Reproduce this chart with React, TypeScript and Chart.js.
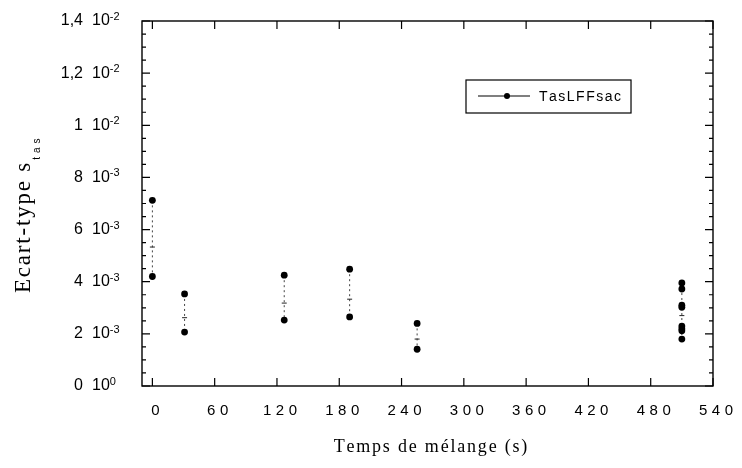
import React, { useEffect, useRef } from 'react';
import { Chart, registerables } from 'chart.js';

Chart.register(...registerables);

// ---- data ----
const mixTimes = [0, 31, 127, 190, 255, 510];
const sdAt0 = [7.12e-3, 4.2e-3];
const sdAt31 = [3.53e-3, 2.07e-3];
const sdAt127 = [4.25e-3, 2.53e-3];
const sdAt190 = [4.48e-3, 2.65e-3];
const sdAt255 = [2.4e-3, 1.41e-3];
const sdAt510 = [3.95e-3, 3.72e-3, 3.1e-3, 3.02e-3, 2.3e-3, 2.2e-3, 2.12e-3, 1.8e-3];
const sdGroups = [sdAt0, sdAt31, sdAt127, sdAt190, sdAt255, sdAt510];
const midMarks = [5.33e-3, 2.62e-3, 3.18e-3, 3.33e-3, 1.8e-3, 2.7e-3];

const xTicks = [0, 60, 120, 180, 240, 300, 360, 420, 480, 540];
const yTicks = [0, 0.002, 0.004, 0.006, 0.008, 0.01, 0.012, 0.014];
const yTickMantissa = ['0', '2', '4', '6', '8', '1', '1,2', '1,4'];
const yTickExponent = ['0', '-3', '-3', '-3', '-3', '-2', '-2', '-2'];
const yMinorStep = 0.0005;
const seriesLabel = 'TasLFFsac';
const xTitle = 'Temps de mélange (s)';
const yTitle = 'Ecart-type s';
const yTitleSub = 'tas';

const SANS = '"Liberation Sans", Arial, sans-serif';
const SERIF = '"Liberation Serif", "Times New Roman", serif';

function measureSpaced(ctx: CanvasRenderingContext2D, text: string, gap: number) {
  let w = 0;
  for (let i = 0; i < text.length; i++) {
    w += ctx.measureText(text[i]).width;
    if (i < text.length - 1) w += gap;
  }
  return w;
}
function drawSpaced(ctx: CanvasRenderingContext2D, text: string, x: number, y: number, gap: number) {
  let cx = x;
  for (let i = 0; i < text.length; i++) {
    ctx.fillText(text[i], cx, y);
    cx += ctx.measureText(text[i]).width + gap;
  }
}

const decorPlugin = {
  id: 'decor',
  afterDraw(chart: any) {
    const ctx: CanvasRenderingContext2D = chart.ctx;
    const { left, right, top, bottom } = chart.chartArea;
    const xs = chart.scales.x;
    const ys = chart.scales.y;
    ctx.save();
    ctx.strokeStyle = '#000';
    ctx.fillStyle = '#000';
    ctx.lineWidth = 1.4;
    ctx.strokeRect(left, top, right - left, bottom - top);

    // y ticks (inward, both sides)
    ctx.lineWidth = 1.2;
    const nMinor = Math.round(yTicks[yTicks.length - 1] / yMinorStep);
    for (let i = 0; i <= nMinor; i++) {
      const py = ys.getPixelForValue(i * yMinorStep);
      const len = i % 4 === 0 ? 8 : 4;
      ctx.beginPath();
      ctx.moveTo(left, py);
      ctx.lineTo(left + len, py);
      ctx.moveTo(right, py);
      ctx.lineTo(right - len, py);
      ctx.stroke();
    }
    // x ticks (inward, top & bottom)
    xTicks.forEach((v) => {
      const px = xs.getPixelForValue(v);
      ctx.beginPath();
      ctx.moveTo(px, bottom);
      ctx.lineTo(px, bottom - 8);
      ctx.moveTo(px, top);
      ctx.lineTo(px, top + 8);
      ctx.stroke();
    });

    // y tick labels
    yTicks.forEach((v, i) => {
      const py = ys.getPixelForValue(v);
      ctx.font = `16px ${SANS}`;
      ctx.textBaseline = 'middle';
      ctx.textAlign = 'right';
      ctx.fillText(yTickMantissa[i], left - 59, py);
      ctx.textAlign = 'left';
      ctx.fillText('10', left - 50, py);
      const w10 = ctx.measureText('10').width;
      ctx.font = `11px ${SANS}`;
      ctx.textBaseline = 'alphabetic';
      ctx.fillText(yTickExponent[i], left - 50 + w10, py - 1);
    });

    // x tick labels
    ctx.font = `15px ${SANS}`;
    ctx.textAlign = 'left';
    ctx.textBaseline = 'middle';
    xTicks.forEach((v) => {
      const px = xs.getPixelForValue(v);
      const t = String(v);
      const w = measureSpaced(ctx, t, 4.5);
      drawSpaced(ctx, t, px + 3 - w / 2, bottom + 25, 4.5);
    });

    // x title
    ctx.font = `18px ${SERIF}`;
    ctx.textBaseline = 'alphabetic';
    const wx = measureSpaced(ctx, xTitle, 1.8);
    drawSpaced(ctx, xTitle, (left + right) / 2 + 3 - wx / 2, 452, 1.8);

    // y title (rotated)
    ctx.save();
    ctx.translate(30, 293);
    ctx.rotate(-Math.PI / 2);
    ctx.font = `23px ${SERIF}`;
    const wy = measureSpaced(ctx, yTitle, 1.8);
    drawSpaced(ctx, yTitle, 0, 0, 1.8);
    ctx.font = `10px ${SANS}`;
    drawSpaced(ctx, yTitleSub, wy + 3, 10, 4);
    ctx.restore();

    // legend box
    ctx.font = `14px ${SANS}`;
    ctx.textBaseline = 'middle';
    const lx = 466, ly = 80, lh = 33;
    const tw = measureSpaced(ctx, seriesLabel, 1.5);
    const lw = 539 - lx + tw + 10;
    ctx.lineWidth = 1.2;
    ctx.strokeRect(lx, ly, lw, lh);
    ctx.beginPath();
    ctx.moveTo(478, ly + 16);
    ctx.lineTo(530, ly + 16);
    ctx.stroke();
    ctx.beginPath();
    ctx.arc(507, ly + 16, 3, 0, Math.PI * 2);
    ctx.fill();
    drawSpaced(ctx, seriesLabel, 539, ly + 17, 1.5);
    ctx.restore();
  },
};

export default function App() {
  const canvasRef = useRef<HTMLCanvasElement>(null);
  useEffect(() => {
    if (!canvasRef.current) return;
    const lineSets = sdGroups.map((g, i) => ({
      label: seriesLabel + i,
      data: g.map((v) => ({ x: mixTimes[i], y: v })),
      showLine: true,
      borderColor: '#444',
      borderWidth: 1,
      borderDash: [2, 3],
      pointRadius: 0,
      order: 3,
    }));
    const points = {
      label: seriesLabel,
      data: sdGroups.flatMap((g, i) => g.map((v) => ({ x: mixTimes[i], y: v }))),
      showLine: false,
      pointRadius: 3.4,
      pointBackgroundColor: '#000',
      pointBorderColor: '#000',
      pointBorderWidth: 0,
      order: 0,
    };
    const mids = {
      label: 'mid',
      data: midMarks.map((v, i) => ({ x: mixTimes[i], y: v })),
      showLine: false,
      pointStyle: 'line',
      pointRadius: 2.5,
      pointBorderColor: '#222',
      pointBorderWidth: 1,
      order: 1,
    };
    const chart = new Chart(canvasRef.current, {
      type: 'scatter',
      data: { datasets: [...lineSets, points, mids] as any },
      options: {
        animation: false,
        responsive: true,
        maintainAspectRatio: false,
        layout: { padding: { top: 21, right: 29, left: 0, bottom: 0 } },
        plugins: { legend: { display: false }, tooltip: { enabled: false } },
        scales: {
          x: {
            type: 'linear',
            min: -10,
            max: 540,
            grid: { display: false },
            border: { display: false },
            ticks: { display: false },
            afterFit: (s: any) => { s.height = 82; },
          },
          y: {
            type: 'linear',
            min: 0,
            max: 0.014,
            grid: { display: false },
            border: { display: false },
            ticks: { display: false },
            afterFit: (s: any) => { s.width = 142; },
          },
        },
      },
      plugins: [decorPlugin],
    });
    return () => chart.destroy();
  }, []);
  return (
    <div style={{ position: 'fixed', left: 0, top: 0, width: 742, height: 468, background: '#fff' }}>
      <canvas ref={canvasRef} />
    </div>
  );
}
